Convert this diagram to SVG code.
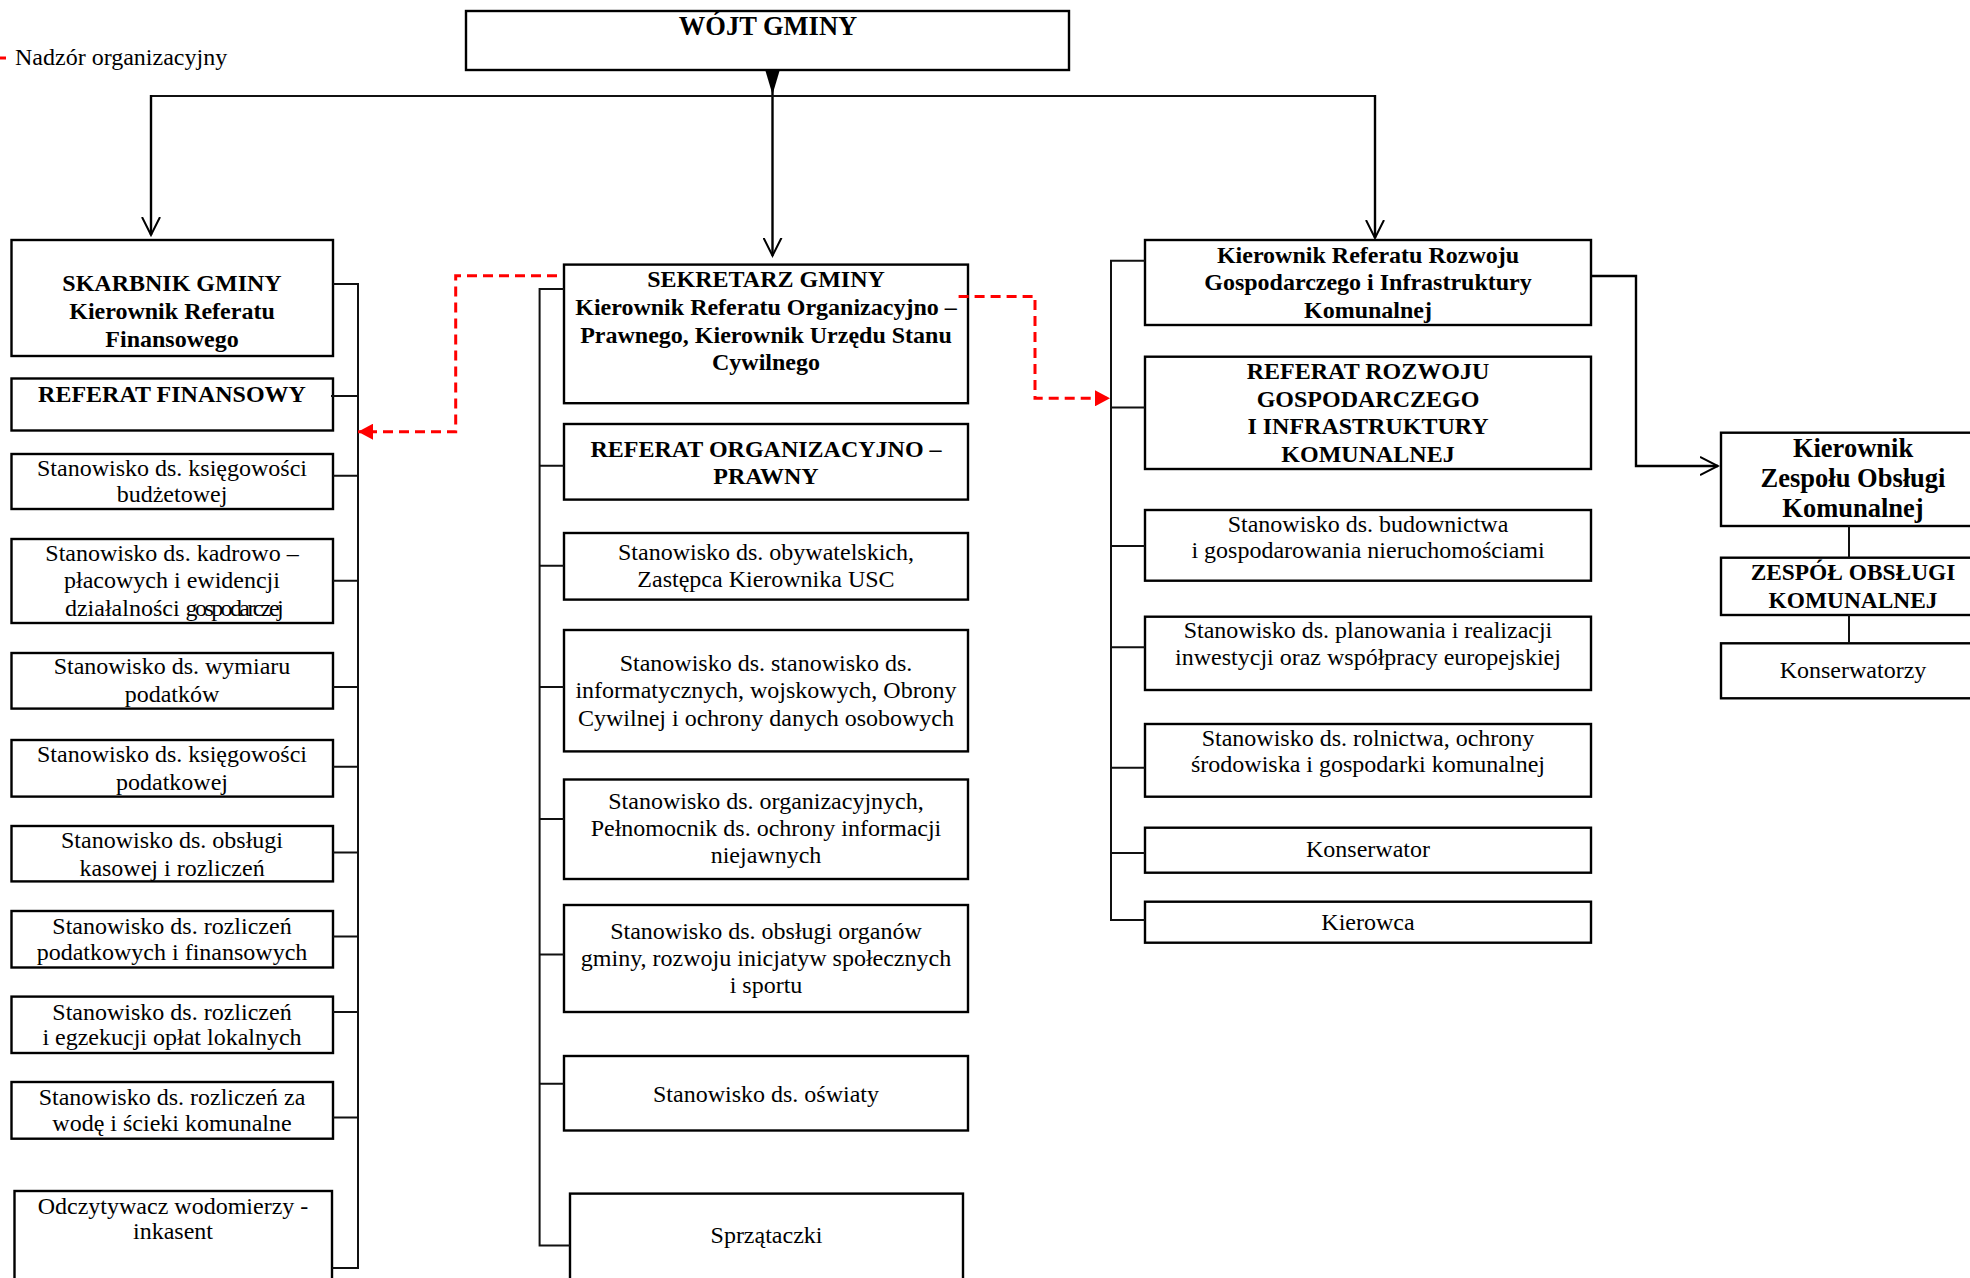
<svg xmlns="http://www.w3.org/2000/svg" width="1970" height="1278" viewBox="0 0 1970 1278">
<style>
.box{fill:#fff;stroke:#000;stroke-width:2.4}
.ln{fill:none;stroke:#111;stroke-width:2}
.ln2{fill:none;stroke:#000;stroke-width:2.4}
.red{fill:none;stroke:#ff0000;stroke-width:3;stroke-dasharray:10 6}
text{font-family:"Liberation Serif","Times New Roman",serif;fill:#000;text-anchor:middle}
.r{font-size:24px}
.b{font-size:24px;font-weight:bold}
.b26{font-size:26.5px;font-weight:bold}
.b22{font-size:23.4px;font-weight:bold}
</style>
<defs>
<marker id="vopen" viewBox="0 0 20 20" refX="18" refY="10" markerWidth="20" markerHeight="20" orient="auto" markerUnits="userSpaceOnUse">
<path d="M0,1 L18,10 L0,19" fill="none" stroke="#000" stroke-width="2"/>
</marker>
<marker id="redtri" viewBox="0 0 16 16" refX="15" refY="8" markerWidth="16" markerHeight="16" orient="auto" markerUnits="userSpaceOnUse">
<path d="M0,0 L15,8 L0,16 Z" fill="#ff0000"/>
</marker>
</defs>
<rect width="1970" height="1278" fill="#fff"/>

<g id="legend">
<line x1="0" y1="58" x2="6" y2="58" stroke="#ff0000" stroke-width="3"/>
<text class="r" x="15" y="65" style="text-anchor:start">Nadzór organizacyjny</text>
</g>

<g id="wojt"><rect class="box" x="466" y="11" width="603" height="59"/><text class="b26" x="768" y="35">WÓJT GMINY</text></g>

<g id="skarbnik"><rect class="box" x="11.5" y="240" width="321.5" height="116"/>
<text class="b" x="172" y="291">SKARBNIK GMINY</text><text class="b" x="172" y="319">Kierownik Referatu</text><text class="b" x="172" y="347">Finansowego</text></g>
<g id="ref-fin"><rect class="box" x="11.5" y="378.5" width="321.5" height="52"/><text class="b" x="172" y="402">REFERAT FINANSOWY</text></g>
<g id="ksieg-bud"><rect class="box" x="11.5" y="454" width="321.5" height="55"/><text class="r" x="172" y="475.5">Stanowisko ds. księgowości</text><text class="r" x="172" y="502">budżetowej</text></g>
<g id="kadrowo"><rect class="box" x="11.5" y="539" width="321.5" height="84"/><text class="r" x="172" y="561">Stanowisko ds.  kadrowo –</text><text class="r" x="172" y="588">płacowych i ewidencji</text><text class="r" x="173" y="615.5">działalności <tspan letter-spacing="-2.6">gospodarczej</tspan></text></g>
<g id="wymiar"><rect class="box" x="11.5" y="653" width="321.5" height="55.6"/><text class="r" x="172" y="673.6">Stanowisko ds. wymiaru</text><text class="r" x="172" y="702">podatków</text></g>
<g id="ksieg-pod"><rect class="box" x="11.5" y="740" width="321.5" height="56.6"/><text class="r" x="172" y="762">Stanowisko ds. księgowości</text><text class="r" x="172" y="789.8">podatkowej</text></g>
<g id="kasa"><rect class="box" x="11.5" y="826" width="321.5" height="55.4"/><text class="r" x="172" y="848">Stanowisko ds. obsługi</text><text class="r" x="172" y="875.5">kasowej i rozliczeń</text></g>
<g id="rozl-pod"><rect class="box" x="11.5" y="911" width="321.5" height="56.5"/><text class="r" x="172" y="934">Stanowisko ds. rozliczeń</text><text class="r" x="172" y="959.6">podatkowych i finansowych</text></g>
<g id="egzekucja"><rect class="box" x="11.5" y="996.6" width="321.5" height="56.4"/><text class="r" x="172" y="1019.6">Stanowisko ds. rozliczeń</text><text class="r" x="172" y="1045.4">i egzekucji opłat lokalnych</text></g>
<g id="woda"><rect class="box" x="11.5" y="1082" width="321.5" height="56.7"/><text class="r" x="172" y="1104.7">Stanowisko ds. rozliczeń za</text><text class="r" x="172" y="1131">wodę i ścieki komunalne</text></g>
<g id="odczyt"><rect class="box" x="14.5" y="1191" width="317.5" height="110"/><text class="r" x="173" y="1213.5">Odczytywacz wodomierzy -</text><text class="r" x="173" y="1239">inkasent</text></g>

<g id="sekretarz"><rect class="box" x="564" y="264.6" width="404" height="138.6"/>
<text class="b" x="766" y="287">SEKRETARZ GMINY</text><text class="b" x="766" y="314.6">Kierownik Referatu Organizacyjno –</text><text class="b" x="766" y="342.5">Prawnego, Kierownik Urzędu Stanu</text><text class="b" x="766" y="370.4">Cywilnego</text></g>
<g id="ref-org"><rect class="box" x="564" y="424" width="404" height="75.6"/><text class="b" x="766" y="456.8">REFERAT ORGANIZACYJNO –</text><text class="b" x="766" y="483.6">PRAWNY</text></g>
<g id="obywatel"><rect class="box" x="564" y="533" width="404" height="66.6"/><text class="r" x="766" y="560">Stanowisko ds. obywatelskich,</text><text class="r" x="766" y="587">Zastępca Kierownika USC</text></g>
<g id="informat"><rect class="box" x="564" y="630" width="404" height="121.4"/><text class="r" x="766" y="671">Stanowisko ds. stanowisko ds.</text><text class="r" x="766" y="698">informatycznych, wojskowych, Obrony</text><text class="r" x="766" y="726">Cywilnej i ochrony danych osobowych</text></g>
<g id="organiz"><rect class="box" x="564" y="779.5" width="404" height="99.5"/><text class="r" x="766" y="808.6">Stanowisko ds. organizacyjnych,</text><text class="r" x="766" y="836">Pełnomocnik ds. ochrony informacji</text><text class="r" x="766" y="862.8">niejawnych</text></g>
<g id="organy"><rect class="box" x="564" y="905" width="404" height="107"/><text class="r" x="766" y="939">Stanowisko ds. obsługi organów</text><text class="r" x="766" y="965.8">gminy, rozwoju inicjatyw społecznych</text><text class="r" x="766" y="993">i sportu</text></g>
<g id="oswiata"><rect class="box" x="564" y="1056" width="404" height="74.5"/><text class="r" x="766" y="1102">Stanowisko ds. oświaty</text></g>
<g id="sprzataczki"><rect class="box" x="570" y="1193.6" width="393" height="110"/><text class="r" x="766.5" y="1242.7">Sprzątaczki</text></g>

<g id="kier-rozw"><rect class="box" x="1145" y="240" width="446" height="85"/>
<text class="b" x="1368" y="263.3">Kierownik Referatu Rozwoju</text><text class="b" x="1368" y="290">Gospodarczego i Infrastruktury</text><text class="b" x="1368" y="318.3">Komunalnej</text></g>
<g id="ref-rozw"><rect class="box" x="1145" y="356.7" width="446" height="112.3"/>
<text class="b" x="1368" y="379">REFERAT ROZWOJU</text><text class="b" x="1368" y="406.7">GOSPODARCZEGO</text><text class="b" x="1368" y="434">I INFRASTRUKTURY</text><text class="b" x="1368" y="461.7">KOMUNALNEJ</text></g>
<g id="budownictwo"><rect class="box" x="1145" y="510" width="446" height="70.7"/><text class="r" x="1368" y="531.7">Stanowisko ds. budownictwa</text><text class="r" x="1368" y="558.3">i gospodarowania nieruchomościami</text></g>
<g id="planowanie"><rect class="box" x="1145" y="616.7" width="446" height="73.3"/><text class="r" x="1368" y="638">Stanowisko ds. planowania i realizacji</text><text class="r" x="1368" y="665">inwestycji oraz współpracy europejskiej</text></g>
<g id="rolnictwo"><rect class="box" x="1145" y="724" width="446" height="72.7"/><text class="r" x="1368" y="746">Stanowisko ds. rolnictwa, ochrony</text><text class="r" x="1368" y="771.7">środowiska i gospodarki komunalnej</text></g>
<g id="konserwator"><rect class="box" x="1145" y="827.7" width="446" height="45"/><text class="r" x="1368" y="856.7">Konserwator</text></g>
<g id="kierowca"><rect class="box" x="1145" y="901.7" width="446" height="41"/><text class="r" x="1368" y="930">Kierowca</text></g>

<g id="kier-zesp"><rect class="box" x="1721" y="432.7" width="270" height="93.3"/>
<text class="b26" x="1853" y="456.7">Kierownik</text><text class="b26" x="1853" y="486.7">Zespołu Obsługi</text><text class="b26" x="1853" y="516.7">Komunalnej</text></g>
<g id="zespol"><rect class="box" x="1721" y="557.7" width="270" height="57.3"/><text class="b22" x="1853" y="580">ZESPÓŁ OBSŁUGI</text><text class="b22" x="1853" y="608.3">KOMUNALNEJ</text></g>
<g id="konserwatorzy"><rect class="box" x="1721" y="643.3" width="270" height="55"/><text class="r" x="1853" y="678.3">Konserwatorzy</text></g>

<g id="connectors">
<polygon points="765.5,71 779.5,71 772.5,94.5" fill="#000"/>
<line class="ln2" x1="772.5" y1="70" x2="772.5" y2="255.7" marker-end="url(#vopen)"/>
<line class="ln" x1="150" y1="96" x2="1376" y2="96"/>
<line class="ln2" x1="151" y1="95" x2="151" y2="235" marker-end="url(#vopen)"/>
<line class="ln2" x1="1375" y1="95" x2="1375" y2="238" marker-end="url(#vopen)"/>

<path class="ln" d="M333,284 H358 V1268 H332"/>
<path class="ln" d="M331,396 H358 M333,475.7 H358 M333,580.7 H358 M333,687 H358 M333,766.8 H358 M333,852.5 H358 M333,936.6 H358 M333,1012 H358 M333,1117.4 H358"/>

<path class="ln" d="M564,289 H539.6 V1245.4 H570"/>
<path class="ln" d="M539.6,465.7 H564 M539.6,565.7 H564 M539.6,687 H564 M539.6,819 H564 M539.6,954.4 H564 M539.6,1083.8 H564"/>

<path class="ln" d="M1145,260.7 H1111 V920 H1145"/>
<path class="ln" d="M1111,407.5 H1145 M1111,546 H1145 M1111,647.3 H1145 M1111,767.7 H1145 M1111,853 H1145"/>

<path class="ln2" d="M1591,276 H1636 V466 H1718" marker-end="url(#vopen)"/>
<path class="ln" d="M1849,526 V557.7 M1849,615 V643.3"/>

<path class="red" d="M557,275.7 H455.7 V431.7 H358" marker-end="url(#redtri)"/>
<path class="red" d="M958.6,296.4 H1035 V398.3 H1110" marker-end="url(#redtri)"/>
</g>
</svg>
